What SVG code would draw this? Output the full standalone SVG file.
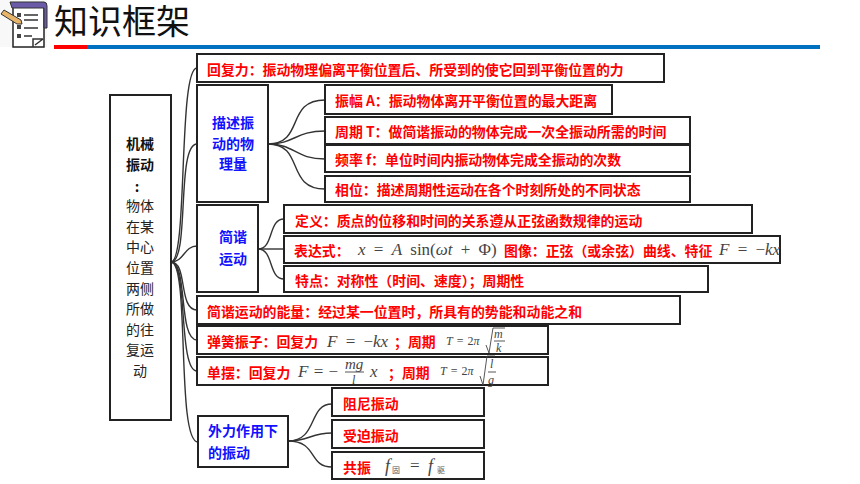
<svg xmlns="http://www.w3.org/2000/svg" width="860" height="484" viewBox="0 0 860 484">
<style>
text{font-family:"Noto Sans CJK SC","Liberation Sans",sans-serif}
.b{fill:#fff;stroke:#222;stroke-width:2}
.r{fill:#f00;font-size:13.9px;font-weight:700}
.u{fill:#11f;font-size:14px;font-weight:700;text-anchor:middle}
.k{fill:#222;font-size:14px;text-anchor:middle}
.kb{font-weight:700;fill:#111}
.m{font-family:"Liberation Serif",serif;fill:#444;font-size:17px;word-spacing:4px}
.i{font-style:italic}
.c{fill:none;stroke:#333;stroke-width:1.4}
.s{font-size:12px}
.t{font-size:12px;word-spacing:1px}
.rl{fill:none;stroke:#444;stroke-width:.9}
</style>
<rect width="860" height="484" fill="#fff"/>
<g id="header">
<rect x="0" y="0" width="47" height="47" fill="#f8f8f8"/>
<rect x="13" y="5" width="31" height="42" fill="#fff" stroke="#222" stroke-width="1.5"/>
<path d="M10 2H44Q47 2 47 6V28L44 28V8H12Z" fill="#6a5aa8" stroke="#333"/>
<rect x="17" y="13" width="4" height="4" fill="#444"/><rect x="17" y="25" width="4" height="4" fill="#444"/><rect x="17" y="34" width="4" height="4" fill="#444"/>
<path d="M24 15H38M24 20H38M24 28H38M24 36H32" stroke="#333" stroke-width="1.5"/>
<path d="M33 47V39H43M35 45L43 39" fill="none" stroke="#333" stroke-width="1.5"/>
<path d="M1 14L4 10L21 20L22 24L17 24Z" fill="#e8b46a" stroke="#333"/>
<text x="54" y="34" font-size="34" fill="#111">知识框架</text>
<rect x="54" y="45" width="33" height="4" fill="#f00"/>
<rect x="87" y="45" width="733" height="4" fill="#0070c0"/>
</g>
<g id="connectors">
<path class="c" d="M171 262C188 262 178 68 197 68"/>
<path class="c" d="M171 262C190 262 176 144 197 144"/>
<path class="c" d="M171 262C184 262 184 246 197 246"/>
<path class="c" d="M171 262C188 262 178 310 197 310"/>
<path class="c" d="M171 262C188 262 178 340 197 340"/>
<path class="c" d="M171 262C188 262 178 371 197 371"/>
<path class="c" d="M171 262C190 262 176 442 198 442"/>
<path class="c" d="M268 144C305 144 285 100 325 100"/>
<path class="c" d="M268 144C295 144 295 131 325 131"/>
<path class="c" d="M268 144C295 144 295 159 325 159"/>
<path class="c" d="M268 144C305 144 285 189 325 189"/>
<path class="c" d="M258 249C274 249 268 219 284 219"/>
<path class="c" d="M258 249H284"/>
<path class="c" d="M258 249C274 249 268 279 284 279"/>
<path class="c" d="M288 441C318 441 308 404 332 404"/>
<path class="c" d="M288 441C310 441 310 433 332 433"/>
<path class="c" d="M288 441C318 441 308 467 332 467"/>
</g>
<g id="root"><rect class="b" x="110" y="95" width="61" height="325"/>
<text class="k kb" x="140" y="149">机械</text><text class="k kb" x="140" y="170">振动</text><text class="k kb" x="137" y="192">:</text>
<text class="k" x="140" y="211">物体</text><text class="k" x="140" y="232">在某</text><text class="k" x="140" y="252">中心</text><text class="k" x="140" y="273">位置</text><text class="k" x="140" y="294">两侧</text><text class="k" x="140" y="314">所做</text><text class="k" x="140" y="335">的往</text><text class="k" x="140" y="355">复运</text><text class="k" x="140" y="376">动</text></g>
<g id="n-restoring"><rect class="b" x="197" y="54" width="467" height="28"/><text class="r" x="207" y="75">回复力：振动物理偏离平衡位置后、所受到的使它回到平衡位置的力</text></g>
<g id="n-describe"><rect class="b" x="197" y="85" width="71" height="117"/><text class="u" x="233" y="128">描述振</text><text class="u" x="233" y="149">动的物</text><text class="u" x="233" y="169">理量</text></g>
<g id="n-amp"><rect class="b" x="325" y="85" width="287" height="29"/><text class="r" x="335" y="106">振幅 A：振动物体离开平衡位置的最大距离</text></g>
<g id="n-period"><rect class="b" x="325" y="117" width="365" height="27"/><text class="r" x="335" y="137">周期 T：做简谐振动的物体完成一次全振动所需的时间</text></g>
<g id="n-freq"><rect class="b" x="325" y="145" width="365" height="27"/><text class="r" x="335" y="165">频率 f：单位时间内振动物体完成全振动的次数</text></g>
<g id="n-phase"><rect class="b" x="325" y="176" width="365" height="26"/><text class="r" x="335" y="195">相位：描述周期性运动在各个时刻所处的不同状态</text></g>
<g id="n-shm"><rect class="b" x="197" y="205" width="61" height="87"/><text class="u" x="233" y="242">简谐</text><text class="u" x="233" y="264">运动</text></g>
<g id="n-def"><rect class="b" x="284" y="205" width="468" height="28"/><text class="r" x="295" y="226">定义：质点的位移和时间的关系遵从正弦函数规律的运动</text></g>
<g id="n-expr"><rect class="b" x="284" y="236" width="496" height="27"/><text class="r" x="294" y="256">表达式：</text>
<text class="m" x="358" y="255"><tspan class="i">x</tspan> = <tspan class="i">A</tspan> sin(<tspan class="i">ωt</tspan> + Φ)</text>
<text class="r" x="504" y="256">图像：正弦（或余弦）曲线、特征</text>
<text class="m" x="719" y="255"><tspan class="i">F</tspan> = −<tspan class="i">kx</tspan></text></g>
<g id="n-feat"><rect class="b" x="284" y="266" width="424" height="26"/><text class="r" x="295" y="286">特点：对称性（时间、速度）；周期性</text></g>
<g id="n-energy"><rect class="b" x="197" y="296" width="483" height="28"/><text class="r" x="207" y="317">简谐运动的能量：经过某一位置时，所具有的势能和动能之和</text></g>
<g id="n-spring"><rect class="b" x="197" y="326" width="351" height="28"/><text class="r" x="207" y="347">弹簧振子：回复力</text>
<text class="m" x="327" y="347"><tspan class="i">F</tspan> = −<tspan class="i">kx</tspan></text><text class="r" x="394" y="347">；周期</text>
<text class="m t" x="446" y="345"><tspan class="i">T</tspan> = 2<tspan class="i">π</tspan></text>
<path class="rl" d="M486 345L489 353L493 328H505M494 341H505"/>
<text class="m s i" x="494" y="338">m</text><text class="m s i" x="496" y="352">k</text></g>
<g id="n-pend"><rect class="b" x="197" y="357" width="351" height="28"/><text class="r" x="207" y="378">单摆：回复力</text>
<text class="m" x="298" y="377" style="word-spacing:1px"><tspan class="i">F</tspan> = −</text><path class="rl" d="M345 372H364"/>
<text class="m i" x="345" y="369" style="font-size:15px">mg</text><text class="m s i" x="352" y="384">l</text><text class="m i" x="370" y="377">x</text>
<text class="r" x="388" y="378">；周期</text>
<text class="m t" x="440" y="375"><tspan class="i">T</tspan> = 2<tspan class="i">π</tspan></text>
<path class="rl" d="M480 376L483 385L487 356H495M488 372H496"/>
<text class="m s i" x="490" y="368">l</text><text class="m s i" x="488" y="384">g</text></g>
<g id="n-forced"><rect class="b" x="198" y="416" width="90" height="51"/><text class="u" x="243" y="436">外力作用下</text><text class="u" x="229" y="458">的振动</text></g>
<g id="n-damp"><rect class="b" x="332" y="388" width="152" height="28"/><text class="r" x="343" y="409">阻尼振动</text></g>
<g id="n-driven"><rect class="b" x="332" y="420" width="152" height="28"/><text class="r" x="343" y="441">受迫振动</text></g>
<g id="n-res"><rect class="b" x="332" y="452" width="152" height="27"/><text class="r" x="343" y="473">共振</text>
<text class="m i" x="385" y="472" style="font-size:18px">f</text><text x="392" y="473" font-size="8" fill="#555">固</text><text class="m" x="410" y="471">=</text><text class="m i" x="428" y="472" style="font-size:18px">f</text><text x="437" y="473" font-size="8" fill="#555">驱</text></g>
</svg>
